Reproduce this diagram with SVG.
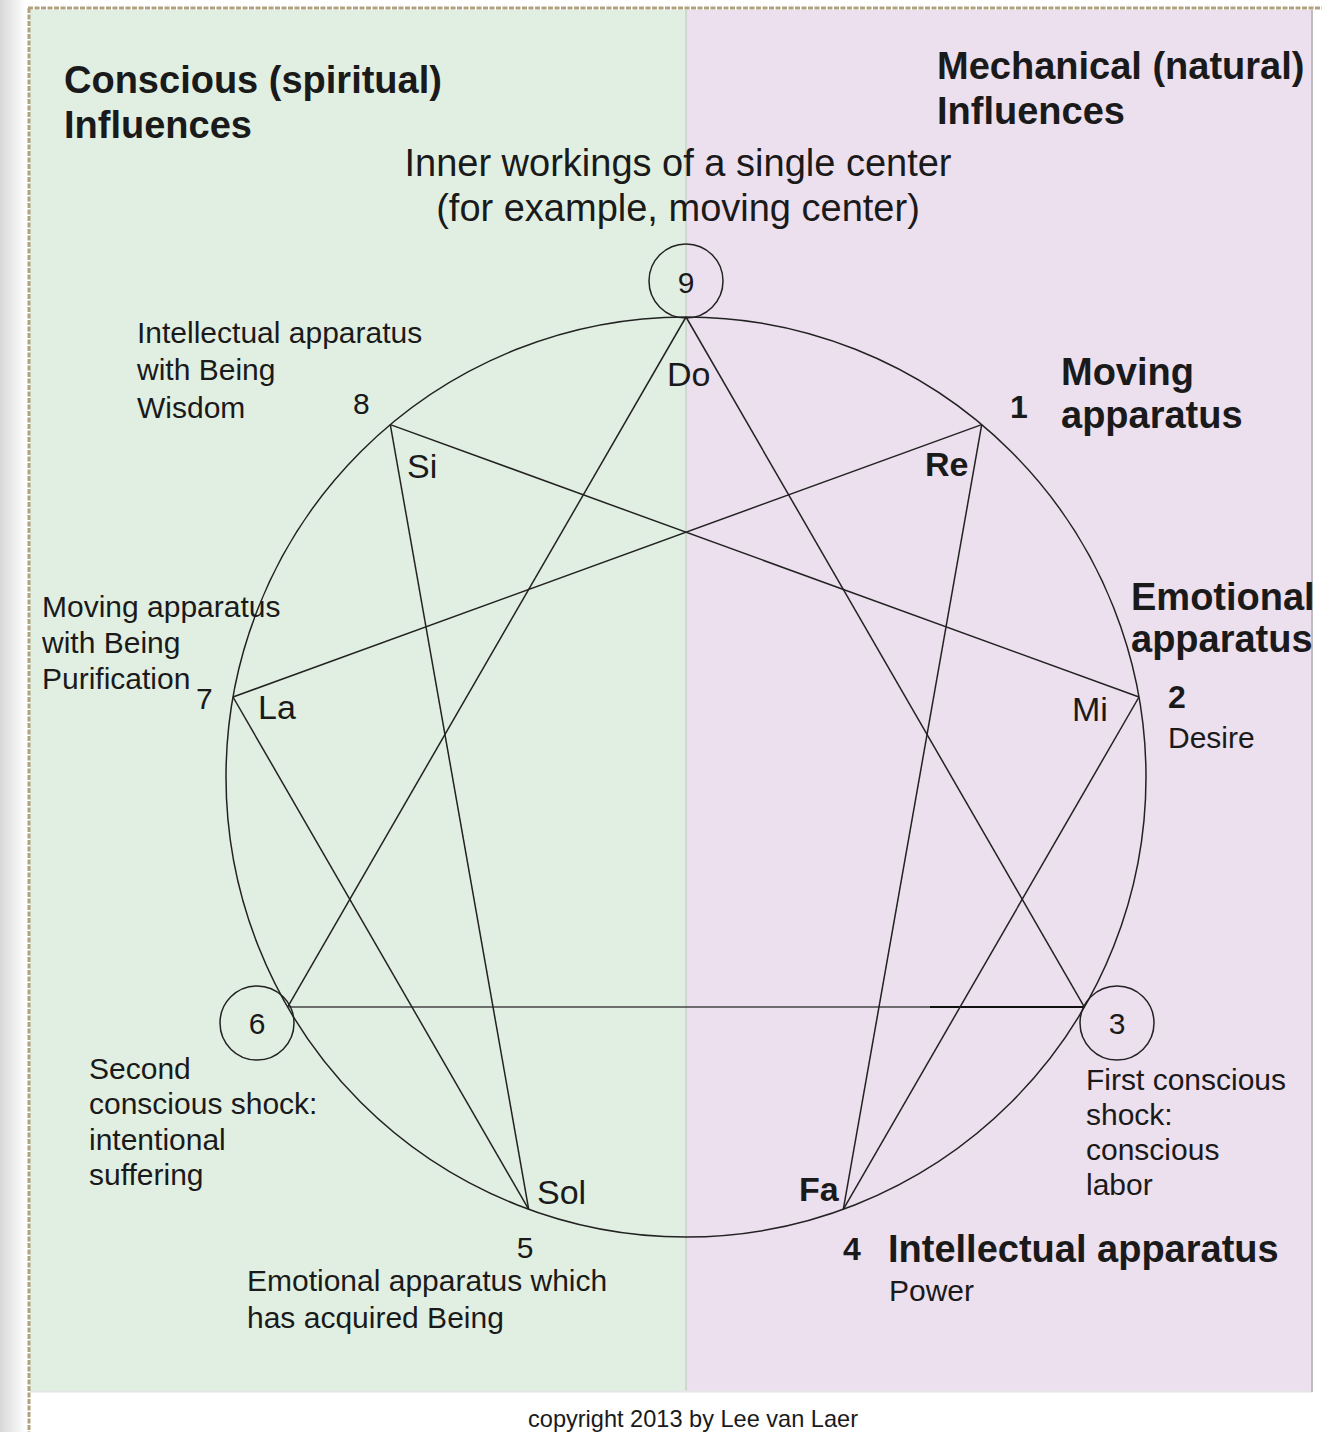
<svg xmlns="http://www.w3.org/2000/svg" width="1322" height="1432" viewBox="0 0 1322 1432">
<defs>
<linearGradient id="strip" x1="0" y1="0" x2="1" y2="0">
<stop offset="0" stop-color="#d8d8d8"/>
<stop offset="1" stop-color="#ffffff"/>
</linearGradient>
<style>
text{font-family:"Liberation Sans",Arial,sans-serif;fill:#1a1a1a}
.h{font-size:38px;font-weight:bold}
.t{font-size:30px}
.tt{font-size:38px}
.note{font-size:34px}
.b{font-size:34px;font-weight:bold}
.n{font-size:32px;font-weight:bold}
.ln{stroke:#222;stroke-width:1.5;fill:none}
.sc{stroke:#222;stroke-width:1.5;fill:none}
</style>
</defs>
<rect x="0" y="0" width="1322" height="1432" fill="#ffffff"/>
<rect x="0" y="0" width="26" height="1432" fill="url(#strip)"/>
<g id="background">
<rect x="30" y="10" width="656" height="1381" fill="#e1efe2"/>
<rect x="686" y="10" width="626" height="1381" fill="#ecdfee"/>
<line x1="686" y1="10" x2="686" y2="1391" stroke="#c9d2c9" stroke-width="1.5"/>
<line x1="30" y1="1391.5" x2="1312" y2="1391.5" stroke="#e6e6e6" stroke-width="2"/>
<line x1="1312" y1="10" x2="1312" y2="1392" stroke="#c0bcc0" stroke-width="2"/>
<line x1="28" y1="8" x2="1322" y2="8" stroke="#b0a27f" stroke-width="3" stroke-dasharray="5 1.5"/>
<line x1="29" y1="8" x2="29" y2="1432" stroke="#b0a27f" stroke-width="3" stroke-dasharray="5 1.5"/>
</g>
<g id="headings">
<text class="h" x="64" y="93">Conscious (spiritual)</text>
<text class="h" x="64" y="138">Influences</text>
<text class="h" x="937" y="79">Mechanical (natural)</text>
<text class="h" x="937" y="124">Influences</text>
<text class="tt" x="678" y="176" text-anchor="middle">Inner workings of a single center</text>
<text class="tt" x="678" y="221" text-anchor="middle">(for example, moving center)</text>
</g>
<g id="circle">
<circle class="ln" cx="686" cy="777" r="460"/>
</g>
<g id="connectors">
<line class="ln" x1="686" y1="317" x2="1084.4" y2="1007"/>
<line class="ln" x1="686" y1="317" x2="287.6" y2="1007"/>
<line x1="287.6" y1="1007" x2="930" y2="1007" stroke="#444" stroke-width="1.5"/>
<line x1="930" y1="1007" x2="1084.4" y2="1007" stroke="#111" stroke-width="2"/>
<line class="ln" x1="981.7" y1="424.6" x2="843.3" y2="1209.3"/>
<line class="ln" x1="843.3" y1="1209.3" x2="1139" y2="697"/>
<line class="ln" x1="1139" y1="697" x2="390.3" y2="424.6"/>
<line class="ln" x1="390.3" y1="424.6" x2="528.7" y2="1209.3"/>
<line class="ln" x1="528.7" y1="1209.3" x2="233" y2="697"/>
<line class="ln" x1="233" y1="697" x2="981.7" y2="424.6"/>
</g>
<g id="node-9">
<circle class="sc" cx="686" cy="281" r="37"/>
<text class="t" x="686" y="293" text-anchor="middle">9</text>
<text class="note" x="667" y="386">Do</text>
</g>
<g id="node-1">
<text class="n" x="1010" y="418">1</text>
<text class="h" x="1061" y="385">Moving</text>
<text class="h" x="1061" y="428">apparatus</text>
<text class="b" x="925" y="476">Re</text>
</g>
<g id="node-2">
<text class="h" x="1131" y="610">Emotional</text>
<text class="h" x="1131" y="652">apparatus</text>
<text class="n" x="1168" y="708">2</text>
<text class="t" x="1168" y="748">Desire</text>
<text class="note" x="1072" y="721">Mi</text>
</g>
<g id="node-3">
<circle class="sc" cx="1117" cy="1023" r="37"/>
<text class="t" x="1117" y="1034" text-anchor="middle">3</text>
<text class="t" x="1086" y="1090">First conscious</text>
<text class="t" x="1086" y="1125">shock:</text>
<text class="t" x="1086" y="1160">conscious</text>
<text class="t" x="1086" y="1195">labor</text>
</g>
<g id="node-4">
<text class="b" x="799" y="1201">Fa</text>
<text class="n" x="843" y="1260">4</text>
<text class="h" x="888" y="1262">Intellectual apparatus</text>
<text class="t" x="889" y="1301">Power</text>
</g>
<g id="node-5">
<text class="note" x="537" y="1204">Sol</text>
<text class="t" x="525" y="1258" text-anchor="middle">5</text>
<text class="t" x="247" y="1291">Emotional apparatus which</text>
<text class="t" x="247" y="1328">has acquired Being</text>
</g>
<g id="node-6">
<circle class="sc" cx="257" cy="1023" r="37"/>
<text class="t" x="257" y="1034" text-anchor="middle">6</text>
<text class="t" x="89" y="1079">Second</text>
<text class="t" x="89" y="1114">conscious shock:</text>
<text class="t" x="89" y="1150">intentional</text>
<text class="t" x="89" y="1185">suffering</text>
</g>
<g id="node-7">
<text class="t" x="42" y="617">Moving apparatus</text>
<text class="t" x="42" y="653">with Being</text>
<text class="t" x="42" y="689">Purification</text>
<text class="t" x="196" y="709">7</text>
<text class="note" x="258" y="719">La</text>
</g>
<g id="node-8">
<text class="t" x="137" y="343">Intellectual apparatus</text>
<text class="t" x="137" y="380">with Being</text>
<text class="t" x="137" y="418">Wisdom</text>
<text class="t" x="353" y="414">8</text>
<text class="note" x="407" y="478">Si</text>
</g>
<g id="footer">
<text x="528" y="1427" font-size="24" textLength="330" lengthAdjust="spacingAndGlyphs">copyright 2013 by Lee van Laer</text>
</g>
</svg>
